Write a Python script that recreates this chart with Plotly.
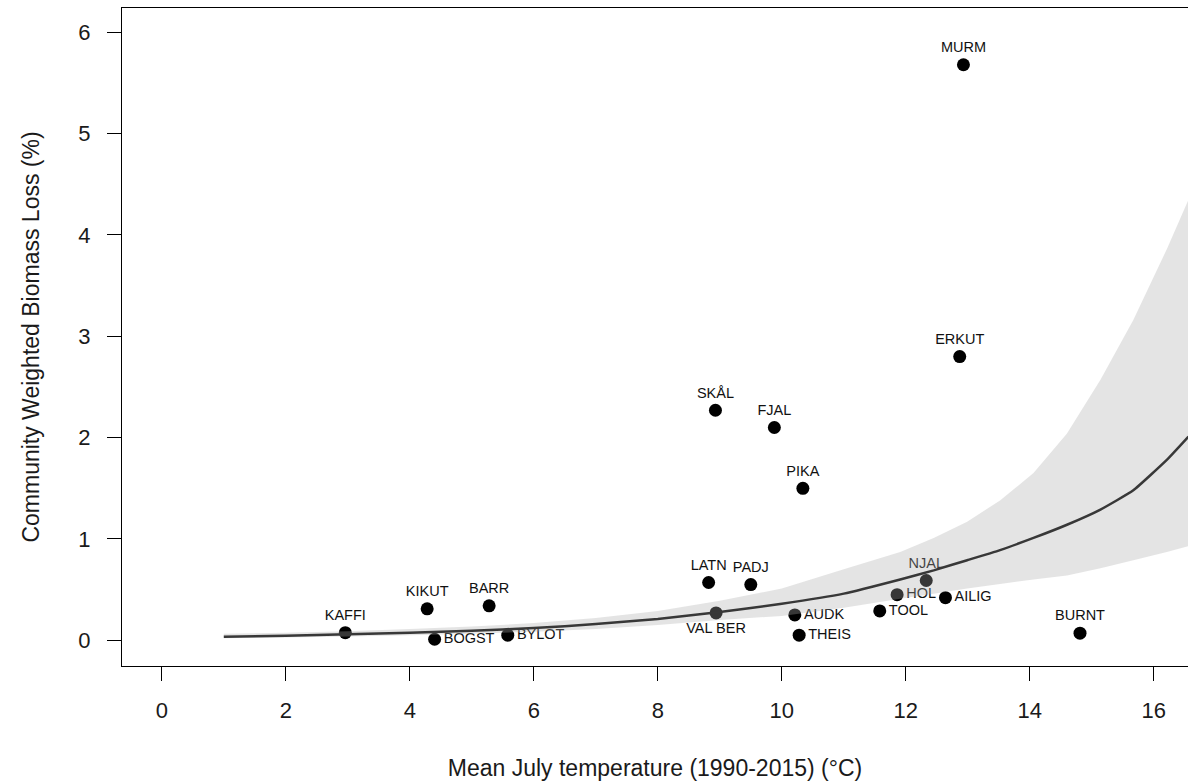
import plotly.graph_objects as go

# ---- data ----
sites = ["KAFFI", "KIKUT", "BOGST", "BARR", "BYLOT", "LATN", "VAL BER", "SKÅL",
         "PADJ", "FJAL", "PIKA", "AUDK", "THEIS", "TOOL", "HOL", "NJAL",
         "AILIG", "ERKUT", "MURM", "BURNT"]
july_temp = [2.96, 4.28, 4.40, 5.28, 5.58, 8.82, 8.94, 8.93,
             9.50, 9.88, 10.34, 10.21, 10.28, 11.58, 11.86, 12.33,
             12.64, 12.87, 12.93, 14.81]
biomass_loss = [0.075, 0.31, 0.01, 0.34, 0.05, 0.57, 0.27, 2.27,
                0.55, 2.10, 1.50, 0.25, 0.05, 0.29, 0.45, 0.59,
                0.42, 2.80, 5.68, 0.07]
label_side = ["top center", "top center", "middle right", "top center", "middle right",
              "top center", "bottom center", "top center", "top center", "top center",
              "top center", "middle right", "middle right", "middle right", "middle right",
              "top center", "middle right", "top center", "top center", "top center"]

fit_x = [1, 2, 3, 4, 5, 6, 7, 8, 9, 10, 11, 11.91, 12.45, 12.99, 13.52,
         14.06, 14.6, 15.14, 15.67, 16.21, 16.56]
fit_y = [0.035, 0.045, 0.06, 0.075, 0.095, 0.12, 0.16, 0.21, 0.28, 0.36,
         0.46, 0.60, 0.69, 0.79, 0.89, 1.01, 1.14, 1.29, 1.48, 1.78, 2.01]
ci_upper = [0.065, 0.075, 0.09, 0.11, 0.135, 0.17, 0.22, 0.29, 0.39, 0.51,
            0.70, 0.87, 1.01, 1.17, 1.38, 1.65, 2.04, 2.57, 3.16, 3.86, 4.35]
ci_lower = [0.02, 0.027, 0.037, 0.05, 0.065, 0.085, 0.11, 0.15, 0.20, 0.24,
            0.32, 0.41, 0.46, 0.51, 0.556, 0.60, 0.64, 0.71, 0.79, 0.87, 0.93]

x_ticks = [0, 2, 4, 6, 8, 10, 12, 14, 16]
y_ticks = [0, 1, 2, 3, 4, 5, 6]

FONT = "Liberation Sans, Arial, sans-serif"

fig = go.Figure()

# points with labels
fig.add_trace(go.Scatter(
    x=july_temp, y=biomass_loss, mode="markers+text",
    text=sites, textposition=label_side,
    textfont=dict(family=FONT, size=14.5, color="#111111"),
    marker=dict(size=13, color="black", line=dict(width=0)),
    cliponaxis=False, hoverinfo="skip", showlegend=False))

# confidence band (semi-transparent, drawn over points)
fig.add_trace(go.Scatter(
    x=fit_x + fit_x[::-1], y=ci_upper + ci_lower[::-1],
    mode="none", fill="toself", fillcolor="rgba(170,170,170,0.32)",
    hoverinfo="skip", showlegend=False))

# fitted line
fig.add_trace(go.Scatter(
    x=fit_x, y=fit_y, mode="lines",
    line=dict(color="#383838", width=2.5, shape="spline", smoothing=0.4),
    hoverinfo="skip", showlegend=False))

fig.update_layout(
    width=1188, height=783,
    margin=dict(l=122, r=0, t=8, b=117, autoexpand=False),
    paper_bgcolor="white", plot_bgcolor="white",
    font=dict(family=FONT, size=22, color="#1a1a1a"),
    xaxis=dict(
        range=[-0.642, 16.552], tickvals=x_ticks, ticktext=[str(v) for v in x_ticks],
        showgrid=False, zeroline=False, automargin=False,
        showline=True, linecolor="black", linewidth=1.3, mirror=True,
        ticks="outside", ticklen=14, tickwidth=1.3, tickcolor="black",
        tickfont=dict(size=22), ticklabelstandoff=10,
        title=dict(text="Mean July temperature (1990-2015) (°C)",
                   font=dict(size=23), standoff=38)),
    yaxis=dict(
        range=[-0.254, 6.24], tickvals=y_ticks, ticktext=[str(v) for v in y_ticks],
        showgrid=False, zeroline=False, automargin=False,
        showline=True, linecolor="black", linewidth=1.3, mirror=False,
        ticks="outside", ticklen=14, tickwidth=1.3, tickcolor="black",
        tickfont=dict(size=22), ticklabelstandoff=12,
        title=dict(text="Community Weighted Biomass Loss (%)",
                   font=dict(size=23), standoff=32)),
)

# remove the default page margin so the figure fills the window exactly
fig.write_html("out.html",
               config={"displayModeBar": False},
               post_script="document.body.style.margin='0';"
                           "document.body.style.overflow='hidden';")
